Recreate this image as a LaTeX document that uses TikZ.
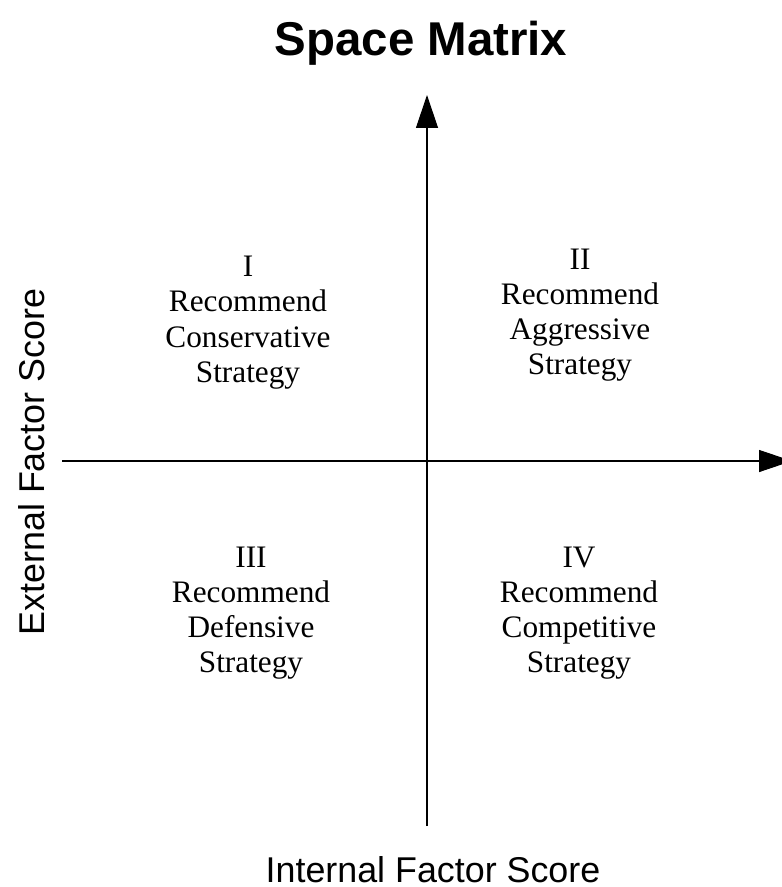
\documentclass[tikz,border=0pt]{standalone}
\usepackage{fontspec}
\setmainfont{Liberation Serif}
\setsansfont{Liberation Sans}
\usepackage{tikz}
\usetikzlibrary{arrows.meta}
\tikzset{>={Triangle[length=18.7pt,width=12.5pt]}}
\tikzset{
  axisline/.style={->,line width=0.6pt},
  quadtext/.style={anchor=north,inner sep=0pt,align=center,font=\fontsize{17.8}{20}\selectfont},
  axislabel/.style={inner sep=0pt,anchor=base,font=\sffamily\fontsize{20.4}{24}\selectfont}
}

\begin{document}
\begin{tikzpicture}[x=0.02cm,y=-0.02cm]
    \useasboundingbox (0,0) rectangle (782,887);
    \node[inner sep=0pt,anchor=base,font=\sffamily\bfseries\fontsize{27}{32}\selectfont] (title) at (421,55) {Space Matrix};
    % axes
    \coordinate (xleft) at (62,461);
    \coordinate (xright) at (792,461);
    \coordinate (ybot) at (427,826);
    \coordinate (ytop) at (427,95);
    \draw[axisline] (xleft) -- (xright);
    \draw[axisline] (ybot) -- (ytop);
    \node[axislabel] (xlabel) at (433,882) {Internal Factor Score};
    \node[axislabel,rotate=90] (ylabel) at (45,462) {External Factor Score};
    % the four quadrants
    \foreach \n/\qx/\qy/\num/\kind in {1/248/256/I/Conservative,2/580/248.6/II/Aggressive,
                                       3/251/546.6/III/Defensive,4/579/546.6/IV/Competitive} {
      \node[quadtext] (quad\n) at (\qx,\qy) {\num\\Recommend\\\kind\\Strategy};
    }
\end{tikzpicture}
\end{document}
